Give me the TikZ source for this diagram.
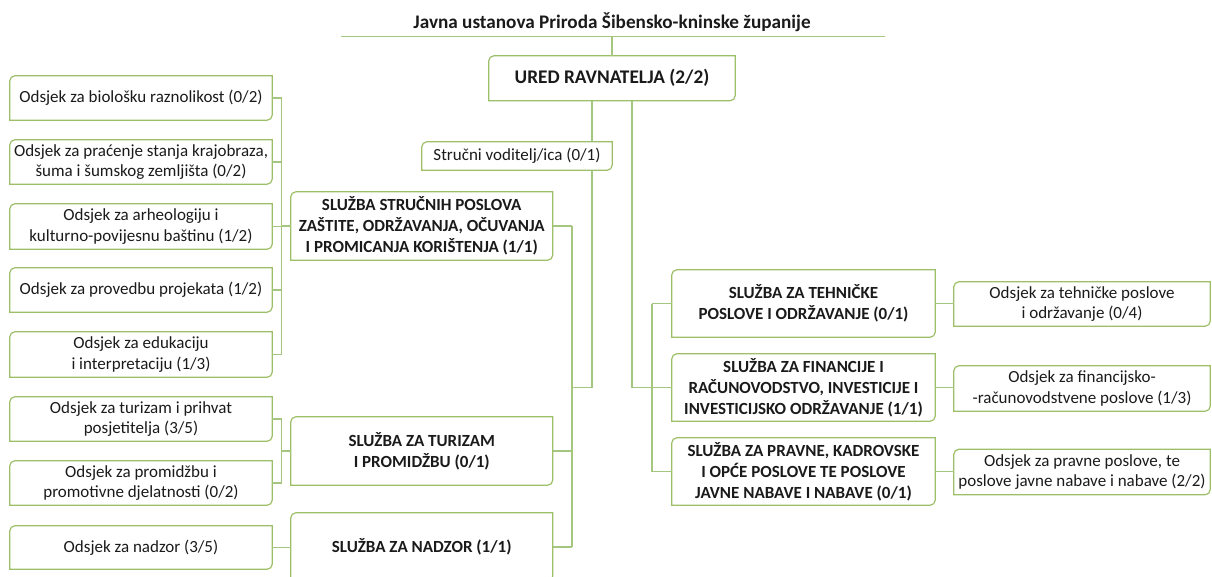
\documentclass[tikz,border=0pt]{standalone}
\usepackage{fontspec}
\setmainfont{Carlito}
\definecolor{gline}{HTML}{9CBF68}
\definecolor{cline}{HTML}{A4C67E}
\definecolor{txt}{HTML}{1A1A1A}
\begin{document}
\begin{tikzpicture}[x=1pt,y=1pt,
  conn/.style={draw=cline, line width=1.2pt},
  outline/.style={draw=gline, line width=1.2pt},
  box/.style={rectangle, inner sep=0pt, align=center, text=txt, font=\fontsize{17}{20.5}\selectfont},
  boldbox/.style={box, font=\bfseries\fontsize{17}{20.8}\selectfont},
  odl/.style={box, minimum width=262pt},
  svl/.style={boldbox, minimum width=261.5pt},
  svr/.style={boldbox, minimum width=263pt},
  odr/.style={box, minimum width=256pt}]
\useasboundingbox (0,0) rectangle (1212,-576);
\clip (0,0) rectangle (1212,-576);
% title
\node[text=txt, inner sep=0pt, font=\bfseries\fontsize{19.2}{22}\selectfont] (title) at (612,-22) {Javna ustanova Priroda Šibensko-kninske županije};
\coordinate (tl1) at (341,-36.5);
\coordinate (tl2) at (885,-36.5);
% top
\node[boldbox, font=\bfseries\fontsize{19.3}{23}\selectfont, minimum width=246pt, minimum height=44.5pt] (ured) at (612,-78.25) {URED RAVNATELJA (2/2)};
\node[box, minimum width=190pt, minimum height=28pt] (struc) at (517,-156) {Stručni voditelj/ica (0/1)};
% left odsjeci
\node[odl, minimum height=44pt] (o1) at (141,-98) {Odsjek za biološku raznolikost (0/2)};
\node[odl, minimum height=44pt] (o2) at (141,-162) {Odsjek za praćenje stanja krajobraza,\\ šuma i šumskog zemljišta (0/2)};
\node[odl, minimum height=45pt] (o3) at (141,-226.5) {Odsjek za arheologiju i\\ kulturno-povijesnu baštinu (1/2)};
\node[odl, minimum height=44pt] (o4) at (141,-290) {Odsjek za provedbu projekata (1/2)};
\node[odl, minimum height=45pt] (o5) at (141,-354.5) {Odsjek za edukaciju\\ i interpretaciju (1/3)};
\node[odl, minimum height=44pt] (o6) at (141,-419) {Odsjek za turizam i prihvat\\ posjetitelja (3/5)};
\node[odl, minimum height=44pt] (o7) at (141,-483) {Odsjek za promidžbu i\\ promotivne djelatnosti (0/2)};
\node[odl, minimum height=43pt] (o8) at (141,-547.5) {Odsjek za nadzor (3/5)};
% left sluzbe
\node[svl, minimum height=68pt] (s1) at (421.75,-226) {SLUŽBA STRUČNIH POSLOVA\\ ZAŠTITE, ODRŽAVANJA, OČUVANJA\\ I PROMICANJA KORIŠTENJA (1/1)};
\node[svl, minimum height=68pt] (s2) at (421.75,-451) {SLUŽBA ZA TURIZAM\\ I PROMIDŽBU (0/1)};
\node[svl, minimum height=68pt] (s3) at (421.75,-547) {SLUŽBA ZA NADZOR (1/1)};
% right sluzbe
\node[svr, minimum height=67pt] (r1) at (803.5,-303.5) {SLUŽBA ZA TEHNIČKE\\ POSLOVE I ODRŽAVANJE (0/1)};
\node[svr, minimum height=67pt] (r2) at (803.5,-387.5) {SLUŽBA ZA FINANCIJE I\\ RAČUNOVODSTVO, INVESTICIJE I\\ INVESTICIJSKO ODRŽAVANJE (1/1)};
\node[svr, minimum height=67pt] (r3) at (803.5,-471.5) {SLUŽBA ZA PRAVNE, KADROVSKE\\ I OPĆE POSLOVE TE POSLOVE\\ JAVNE NABAVE I NABAVE (0/1)};
% right odsjeci
\node[odr, minimum height=44pt] (q1) at (1082,-304) {Odsjek za tehničke poslove\\ i održavanje (0/4)};
\node[odr, minimum height=45pt] (q2) at (1082,-388.5) {Odsjek za financijsko-\\ -računovodstvene poslove (1/3)};
\node[odr, minimum height=45pt] (q3) at (1082,-472) {Odsjek za pravne poslove, te\\ poslove javne nabave i nabave (2/2)};
% outlines: rounded top-left and bottom-right
\foreach \n in {ured,struc,o1,o2,o3,o4,o5,o6,o7,o8,s1,s2,s3,r1,r2,r3,q1,q2,q3}{
  \draw[outline] ([yshift=-5pt]\n.north west) arc[start angle=180,end angle=90,radius=5pt]
    -- (\n.north east) -- ([yshift=5pt]\n.south east) arc[start angle=0,end angle=-90,radius=5pt]
    -- (\n.south west) -- cycle;
}
% bus coordinates
\coordinate (bL) at (281.5,0);
\coordinate (bR) at (572,0);
\coordinate (ax) at (592,0);
\coordinate (bx) at (632,0);
\coordinate (bQ) at (652,0);
% connectors
\draw[conn] (tl1) -- (tl2);
\draw[conn] (ured.north |- tl1) -- (ured.north);
\foreach \i in {o1,o2,o3,o4,o5,o6,o7}{ \draw[conn] (\i.east) -- (\i.east -| bL); }
\draw[conn] (o1.east -| bL) -- (o5.east -| bL);
\draw[conn] (s1.west) -- (s1.west -| bL);
\draw[conn] (o6.east -| bL) -- (o7.east -| bL);
\draw[conn] (s2.west) -- (s2.west -| bL);
\draw[conn] (o8.east) -- (o8.east -| s3.west);
\foreach \i in {s1,s2,s3}{ \draw[conn] (\i.east) -- (\i.east -| bR); }
\draw[conn] (s1.east -| bR) -- (s3.east -| bR);
\draw[conn] (ured.south -| ax) -- (struc.north -| ax);
\draw[conn] (struc.south -| ax) -- (ax |- r2.west) -- (bR |- r2.west);
\draw[conn] (ured.south -| bx) -- (bx |- r2.west) -- (r2.west);
\foreach \i in {r1,r3}{ \draw[conn] (\i.west) -- (\i.west -| bQ); }
\draw[conn] (r1.west -| bQ) -- (r3.west -| bQ);
\draw[conn] (r1.east) -- (r1.east -| q1.west);
\draw[conn] (r2.east) -- (r2.east -| q2.west);
\draw[conn] (r3.east) -- (r3.east -| q3.west);
\end{tikzpicture}
\end{document}
